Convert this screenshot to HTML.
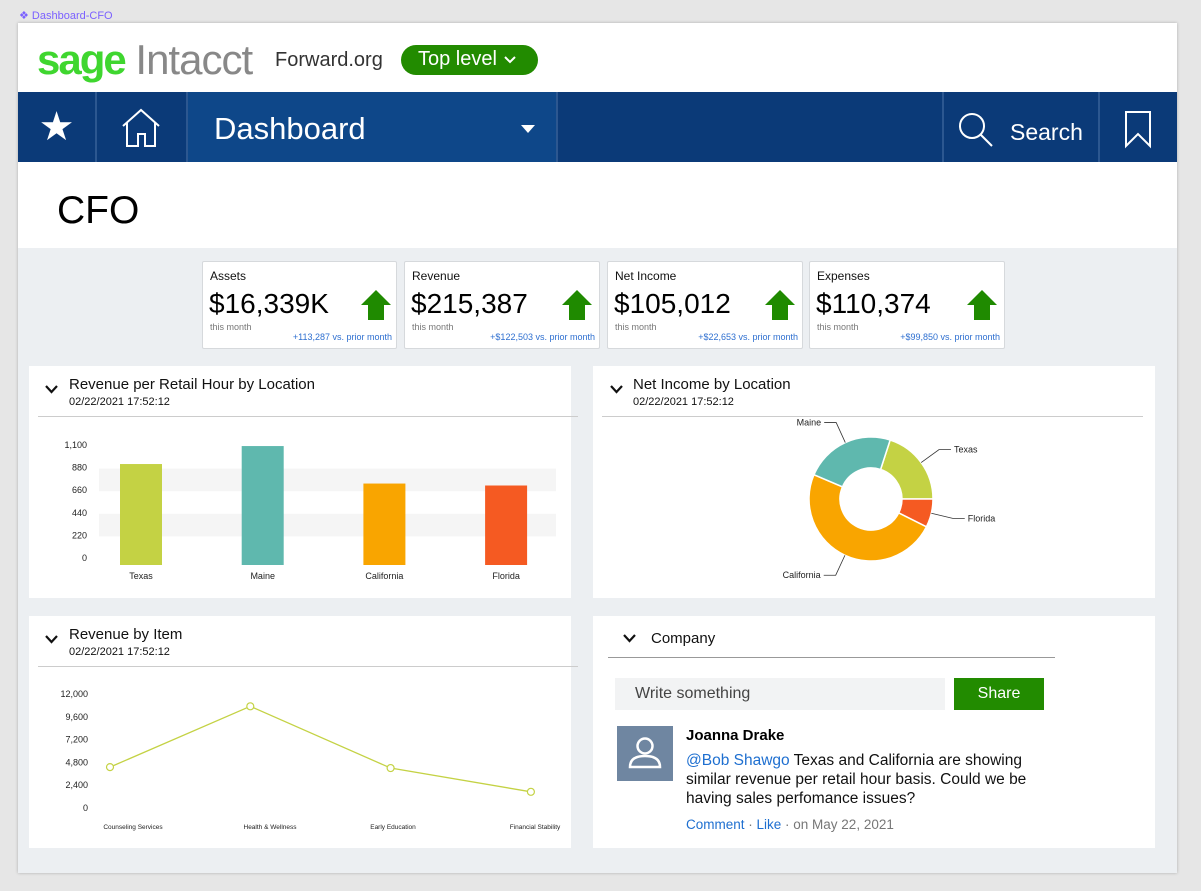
<!DOCTYPE html>
<html><head><meta charset="utf-8">
<style>
*{box-sizing:border-box;margin:0;padding:0}
body{width:1201px;height:891px;background:#e6e6e6;font-family:"Liberation Sans",Arial,sans-serif;position:relative;overflow:hidden}
.abs{position:absolute}
.frame{left:18px;top:23px;width:1159px;height:850px;background:#eceff2;box-shadow:0 0 3px rgba(0,0,0,.25)}
.card{background:#fff;border:1px solid #d6d9dc;border-radius:2px}
.kt{font-size:12px;color:#111;left:7px;top:7px}
.kv{font-size:28px;color:#000;left:6px;top:26px;font-weight:500}
.ks{font-size:9px;color:#777;left:7px;top:60px}
.kc{font-size:9px;color:#2e6fd0;right:4px;top:70px}
.panel{background:#fff}
.ptitle{font-size:15px;color:#111}
.pdate{font-size:11px;color:#111}
</style></head><body>
<div class="abs" style="left:19px;top:9px;font-size:11px;color:#7b61ff">❖ Dashboard-CFO</div>
<div class="abs frame"></div>
<div class="abs" style="left:18px;top:23px;width:1159px;height:69px;background:#fff"></div>
<div class="abs" style="left:37px;top:36px;font-size:42px;letter-spacing:-1px;white-space:nowrap"><span style="color:#3fd62f;font-weight:bold;letter-spacing:-2px">sage</span><span style="color:#888;font-weight:300"> Intacct</span></div>
<div class="abs" style="left:275px;top:49px;font-size:20px;color:#333">Forward.org</div>
<div class="abs" style="left:401px;top:45px;width:137px;height:30px;background:#228b00;border-radius:15px;color:#fff;font-size:20px;padding:3px 0 0 17px">Top level
<svg class="abs" style="left:103px;top:11px" width="12" height="9"><path d="M1 1 L6 6 L11 1" fill="none" stroke="#fff" stroke-width="2"/></svg></div>
<div class="abs" style="left:18px;top:92px;width:1159px;height:70px;background:#0b3a78"></div>
<div class="abs" style="left:18px;top:92px;width:77px;height:70px;color:#fff;font-size:40px;text-align:center;line-height:70px">★</div>
<div class="abs" style="left:95px;top:92px;width:2px;height:70px;background:#2c5790"></div>
<div class="abs" style="left:97px;top:92px;width:89px;height:70px">
<svg width="89" height="70"><path d="M26 34 L44 18 L62 34 M30 30 V54 H41 V42 H48 V54 H58 V30" fill="none" stroke="#fff" stroke-width="2"/></svg></div>
<div class="abs" style="left:186px;top:92px;width:2px;height:70px;background:#2c5790"></div>
<div class="abs" style="left:188px;top:92px;width:368px;height:70px;background:#0e4789;color:#fff;font-size:31px;padding:19px 0 0 26px">Dashboard<span style="position:absolute;left:333px;top:33px;border-left:7px solid transparent;border-right:7px solid transparent;border-top:8px solid #fff"></span></div>
<div class="abs" style="left:556px;top:92px;width:2px;height:70px;background:#2c5790"></div>
<div class="abs" style="left:942px;top:92px;width:2px;height:70px;background:#2c5790"></div>
<div class="abs" style="left:944px;top:92px;width:154px;height:70px;color:#fff;font-size:23px">
<svg class="abs" style="left:12px;top:18px" width="40" height="40"><circle cx="16" cy="16" r="12" fill="none" stroke="#fff" stroke-width="2"/><line x1="25" y1="25" x2="36" y2="36" stroke="#fff" stroke-width="2"/></svg>
<span class="abs" style="left:66px;top:27px">Search</span></div>
<div class="abs" style="left:1098px;top:92px;width:2px;height:70px;background:#2c5790"></div>
<div class="abs" style="left:1100px;top:92px;width:77px;height:70px">
<svg width="77" height="70"><path d="M26 20 H50 V54 L38 42 L26 54 Z" fill="none" stroke="#fff" stroke-width="2"/></svg></div>
<div class="abs" style="left:18px;top:162px;width:1159px;height:86px;background:#fff"></div>
<div class="abs" style="left:57px;top:189px;font-size:39px;color:#000">CFO</div>

<div class="abs card" style="left:202px;top:261px;width:195px;height:88px">
<div class="abs kt">Assets</div><div class="abs kv">$16,339K</div><div class="abs ks">this month</div><div class="abs kc">+113,287 vs. prior month</div>
<svg class="abs" style="left:158px;top:28px" width="30" height="30"><path d="M15 0 L30 15 L23 15 L23 30 L7 30 L7 15 L0 15 Z" fill="#1f8a00"/></svg></div>
<div class="abs card" style="left:404px;top:261px;width:196px;height:88px">
<div class="abs kt">Revenue</div><div class="abs kv">$215,387</div><div class="abs ks">this month</div><div class="abs kc">+$122,503 vs. prior month</div>
<svg class="abs" style="left:157px;top:28px" width="30" height="30"><path d="M15 0 L30 15 L23 15 L23 30 L7 30 L7 15 L0 15 Z" fill="#1f8a00"/></svg></div>
<div class="abs card" style="left:607px;top:261px;width:196px;height:88px">
<div class="abs kt">Net Income</div><div class="abs kv">$105,012</div><div class="abs ks">this month</div><div class="abs kc">+$22,653 vs. prior month</div>
<svg class="abs" style="left:157px;top:28px" width="30" height="30"><path d="M15 0 L30 15 L23 15 L23 30 L7 30 L7 15 L0 15 Z" fill="#1f8a00"/></svg></div>
<div class="abs card" style="left:809px;top:261px;width:196px;height:88px">
<div class="abs kt">Expenses</div><div class="abs kv">$110,374</div><div class="abs ks">this month</div><div class="abs kc">+$99,850 vs. prior month</div>
<svg class="abs" style="left:157px;top:28px" width="30" height="30"><path d="M15 0 L30 15 L23 15 L23 30 L7 30 L7 15 L0 15 Z" fill="#1f8a00"/></svg></div>

<div class="abs panel" style="left:29px;top:366px;width:542px;height:232px"></div>
<svg class="abs" style="left:45px;top:385px" width="13" height="9"><path d="M1 1 L6.5 7 L12 1" fill="none" stroke="#111" stroke-width="2.2"/></svg>
<div class="abs ptitle" style="left:69px;top:376px">Revenue per Retail Hour by Location</div>
<div class="abs pdate" style="left:69px;top:396px">02/22/2021 17:52:12</div>
<div class="abs" style="left:38px;top:416px;width:540px;height:1px;background:#ccc"></div>

<div class="abs panel" style="left:593px;top:366px;width:562px;height:232px"></div>
<svg class="abs" style="left:610px;top:385px" width="13" height="9"><path d="M1 1 L6.5 7 L12 1" fill="none" stroke="#111" stroke-width="2.2"/></svg>
<div class="abs ptitle" style="left:633px;top:376px">Net Income by Location</div>
<div class="abs pdate" style="left:633px;top:396px">02/22/2021 17:52:12</div>
<div class="abs" style="left:602px;top:416px;width:541px;height:1px;background:#ccc"></div>

<div class="abs panel" style="left:29px;top:616px;width:542px;height:232px"></div>
<svg class="abs" style="left:45px;top:635px" width="13" height="9"><path d="M1 1 L6.5 7 L12 1" fill="none" stroke="#111" stroke-width="2.2"/></svg>
<div class="abs ptitle" style="left:69px;top:626px">Revenue by Item</div>
<div class="abs pdate" style="left:69px;top:646px">02/22/2021 17:52:12</div>
<div class="abs" style="left:38px;top:666px;width:540px;height:1px;background:#ccc"></div>

<div class="abs panel" style="left:593px;top:616px;width:562px;height:232px"></div>
<svg class="abs" style="left:623px;top:634px" width="13" height="9"><path d="M1 1 L6.5 7 L12 1" fill="none" stroke="#111" stroke-width="2.2"/></svg>
<div class="abs" style="left:651px;top:630px;font-size:15px;color:#111">Company</div>
<div class="abs" style="left:608px;top:657px;width:447px;height:1px;background:#999"></div>
<div class="abs" style="left:615px;top:678px;width:330px;height:32px;background:#f2f3f4;color:#444;font-size:16px;padding:7px 0 0 20px">Write something</div>
<div class="abs" style="left:954px;top:678px;width:90px;height:32px;background:#228b00;color:#fff;font-size:16px;text-align:center;line-height:32px">Share</div>
<div class="abs" style="left:617px;top:726px;width:56px;height:55px;background:#6f86a1">
<svg width="56" height="55"><circle cx="28" cy="20" r="7.5" fill="none" stroke="#fff" stroke-width="2.5"/><path d="M13 41 Q13 30 28 30 Q43 30 43 41 Z" fill="none" stroke="#fff" stroke-width="2.5"/></svg></div>
<div class="abs" style="left:686px;top:727px;font-size:15px;font-weight:bold;color:#000">Joanna Drake</div>
<div class="abs" style="left:686px;top:751px;width:370px;font-size:15.5px;line-height:19px;color:#111"><span style="color:#1e6fd0">@Bob Shawgo</span> Texas and California are showing similar revenue per retail hour basis. Could we be having sales perfomance issues?</div>
<div class="abs" style="left:686px;top:817px;font-size:13.5px;color:#777"><span style="color:#1e6fd0">Comment</span> · <span style="color:#1e6fd0">Like</span> · on May 22, 2021</div>

<svg class="abs" id="charts" style="left:0;top:0" width="1201" height="891" font-family="Liberation Sans, Arial, sans-serif"></svg>
<script>
const barCategories=["Texas","Maine","California","Florida"];
const barValues=[905,1080,715,696];
const barColors=["#c4d244","#5fb8ae","#f9a500","#f55a22"];
const barTicks=[0,220,440,660,880,1100];
const donutLabels=["Texas","Florida","California","Maine"];
const donutValues=[20,7.4,49,23.6];
const donutColors=["#c4d244","#f55a22","#f9a500","#5fb8ae"];
const lineCategories=["Counseling Services","Health & Wellness","Early Education","Financial Stability"];
const lineValues=[4200,10600,4100,1600];
const lineTicks=[0,2400,4800,7200,9600,12000];

const svg=document.getElementById('charts');
const NS="http://www.w3.org/2000/svg";
function mk(tag,attrs,parent){const e=document.createElementNS(NS,tag);for(const k in attrs)e.setAttribute(k,attrs[k]);(parent||svg).appendChild(e);return e;}
function txt(x,y,s,size,anchor,parent){const t=mk('text',{x:x,y:y,'font-size':size,'text-anchor':anchor,fill:'#222'},parent);t.textContent=s;return t;}

// Bar chart
const bg=mk('g',{});


const by=v=>557-(v/1100)*113;
const bx=i=>141+i*121.7;
for(let i=0;i<barTicks.length-1;i++){if(i%2===1){const r=mk('rect',{x:99,y:by(barTicks[i+1])+2,width:457,height:by(barTicks[i])-by(barTicks[i+1]),fill:'#f5f5f5'},bg);}}
barTicks.forEach(t=>{const e=txt(87,by(t)+4,t.toLocaleString('en-US'),9,'end',bg);});
barValues.forEach((v,i)=>{const r=mk('rect',{x:bx(i)-21,y:by(v),width:42,height:565-by(v),fill:barColors[i]},bg);


const l=txt(bx(i),579,barCategories[i],9,'middle',bg);

});

// Donut
const dg=mk('g',{});


const cx=871,cy=499,R=62,r0=31;
const total=donutValues.reduce((a,b)=>a+b,0);
let ang=18;
const pt=(a,rad)=>[cx+rad*Math.sin(a*Math.PI/180),cy-rad*Math.cos(a*Math.PI/180)];
donutValues.forEach((v,i)=>{const sw=v/total*360;const a0=ang,a1=ang+sw;const lg=sw>180?1:0;
const p1=pt(a0,R),p2=pt(a1,R),p3=pt(a1,r0),p4=pt(a0,r0);
const p=mk('path',{d:`M${p1} A${R} ${R} 0 ${lg} 1 ${p2} L${p3} A${r0} ${r0} 0 ${lg} 0 ${p4} Z`,fill:donutColors[i],stroke:'#fff','stroke-width':1.5},dg);


const mid=a0+sw/2;const q1=pt(mid,R),q2=pt(mid,R+22);const right=Math.sin(mid*Math.PI/180)>=0;
const ex=q2[0]+(right?12:-12);
mk('polyline',{points:`${q1} ${q2} ${ex},${q2[1]}`,fill:'none',stroke:'#333','stroke-width':0.8},dg);
const l=txt(ex+(right?3:-3),q2[1]+3,donutLabels[i],9,right?'start':'end',dg);


ang=a1;});

// Line chart
const lg2=mk('g',{});


const ly=v=>807-(v/12000)*114;
const lx=i=>110+i*140.3;
lineTicks.forEach(t=>{const e=txt(88,ly(t)+4,t.toLocaleString('en-US'),9,'end',lg2);});
const line=mk('polyline',{points:lineValues.map((v,i)=>lx(i)+','+ly(v)).join(' '),fill:'none',stroke:'#c4d244','stroke-width':1.3},lg2);


const lineLabelX=[133,270,393,535];
lineValues.forEach((v,i)=>{const c=mk('circle',{cx:lx(i),cy:ly(v),r:3.5,fill:'#fff',stroke:'#c4d244','stroke-width':1.2},lg2);


const l=txt(lineLabelX[i],829,lineCategories[i],6.5,'middle',lg2);

});
</script>
</body></html>
